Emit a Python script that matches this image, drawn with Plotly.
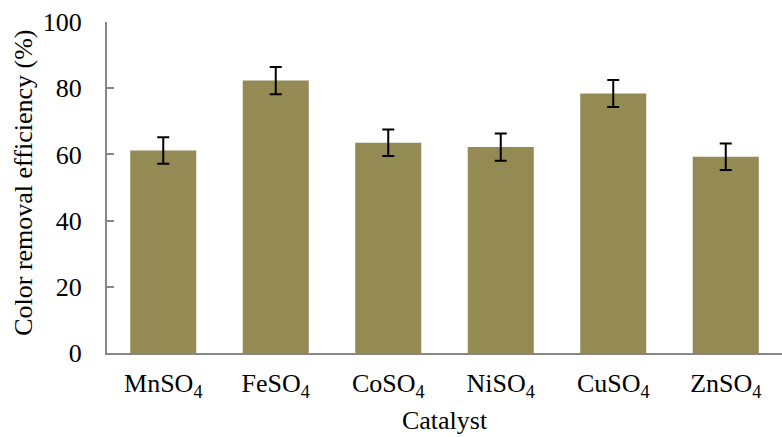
import plotly.graph_objects as go

# Catalyst screening results
catalysts = ["MnSO<sub>4</sub>", "FeSO<sub>4</sub>", "CoSO<sub>4</sub>",
             "NiSO<sub>4</sub>", "CuSO<sub>4</sub>", "ZnSO<sub>4</sub>"]
efficiency = [61.2, 82.3, 63.5, 62.2, 78.4, 59.3]
std_dev = [4.0, 4.1, 4.0, 4.1, 4.1, 4.0]
y_ticks = [0, 20, 40, 60, 80, 100]

FONT = "Liberation Serif, Times New Roman, serif"
AXIS_GRAY = "#868686"
FS = 26

fig = go.Figure(
    go.Bar(
        x=catalysts,
        y=efficiency,
        marker=dict(color="#948A54", line=dict(width=0)),
        error_y=dict(type="data", array=std_dev, visible=True,
                     color="black", thickness=2, width=6),
    )
)

fig.update_layout(
    width=782,
    height=437,
    margin=dict(l=107, r=0, t=22, b=84),
    paper_bgcolor="white",
    plot_bgcolor="white",
    bargap=0.413,
    showlegend=False,
    font=dict(family=FONT, size=FS, color="black"),
)

fig.update_xaxes(
    showline=True, linecolor=AXIS_GRAY, linewidth=2,
    ticks="", showgrid=False,
    ticklabelstandoff=6,
    tickfont=dict(family=FONT, size=FS, color="black"),
    title=dict(text="Catalyst", font=dict(family=FONT, size=FS, color="black"), standoff=10),
)

fig.update_yaxes(
    range=[0, 100],
    tickvals=y_ticks,
    showline=True, linecolor=AXIS_GRAY, linewidth=2,
    ticks="inside", ticklen=7, tickwidth=2, tickcolor=AXIS_GRAY,
    showgrid=False, zeroline=False,
    ticklabelstandoff=18,
    tickfont=dict(family=FONT, size=FS, color="black"),
)

# Y-axis title placed as a rotated annotation left of the tick labels
fig.add_annotation(
    text="Color removal efficiency (%)",
    xref="paper", yref="paper",
    x=-0.124, y=0.515,
    xanchor="center", yanchor="middle",
    textangle=-90, showarrow=False,
    font=dict(family=FONT, size=FS, color="black"),
)

fig.write_html("out.html")
